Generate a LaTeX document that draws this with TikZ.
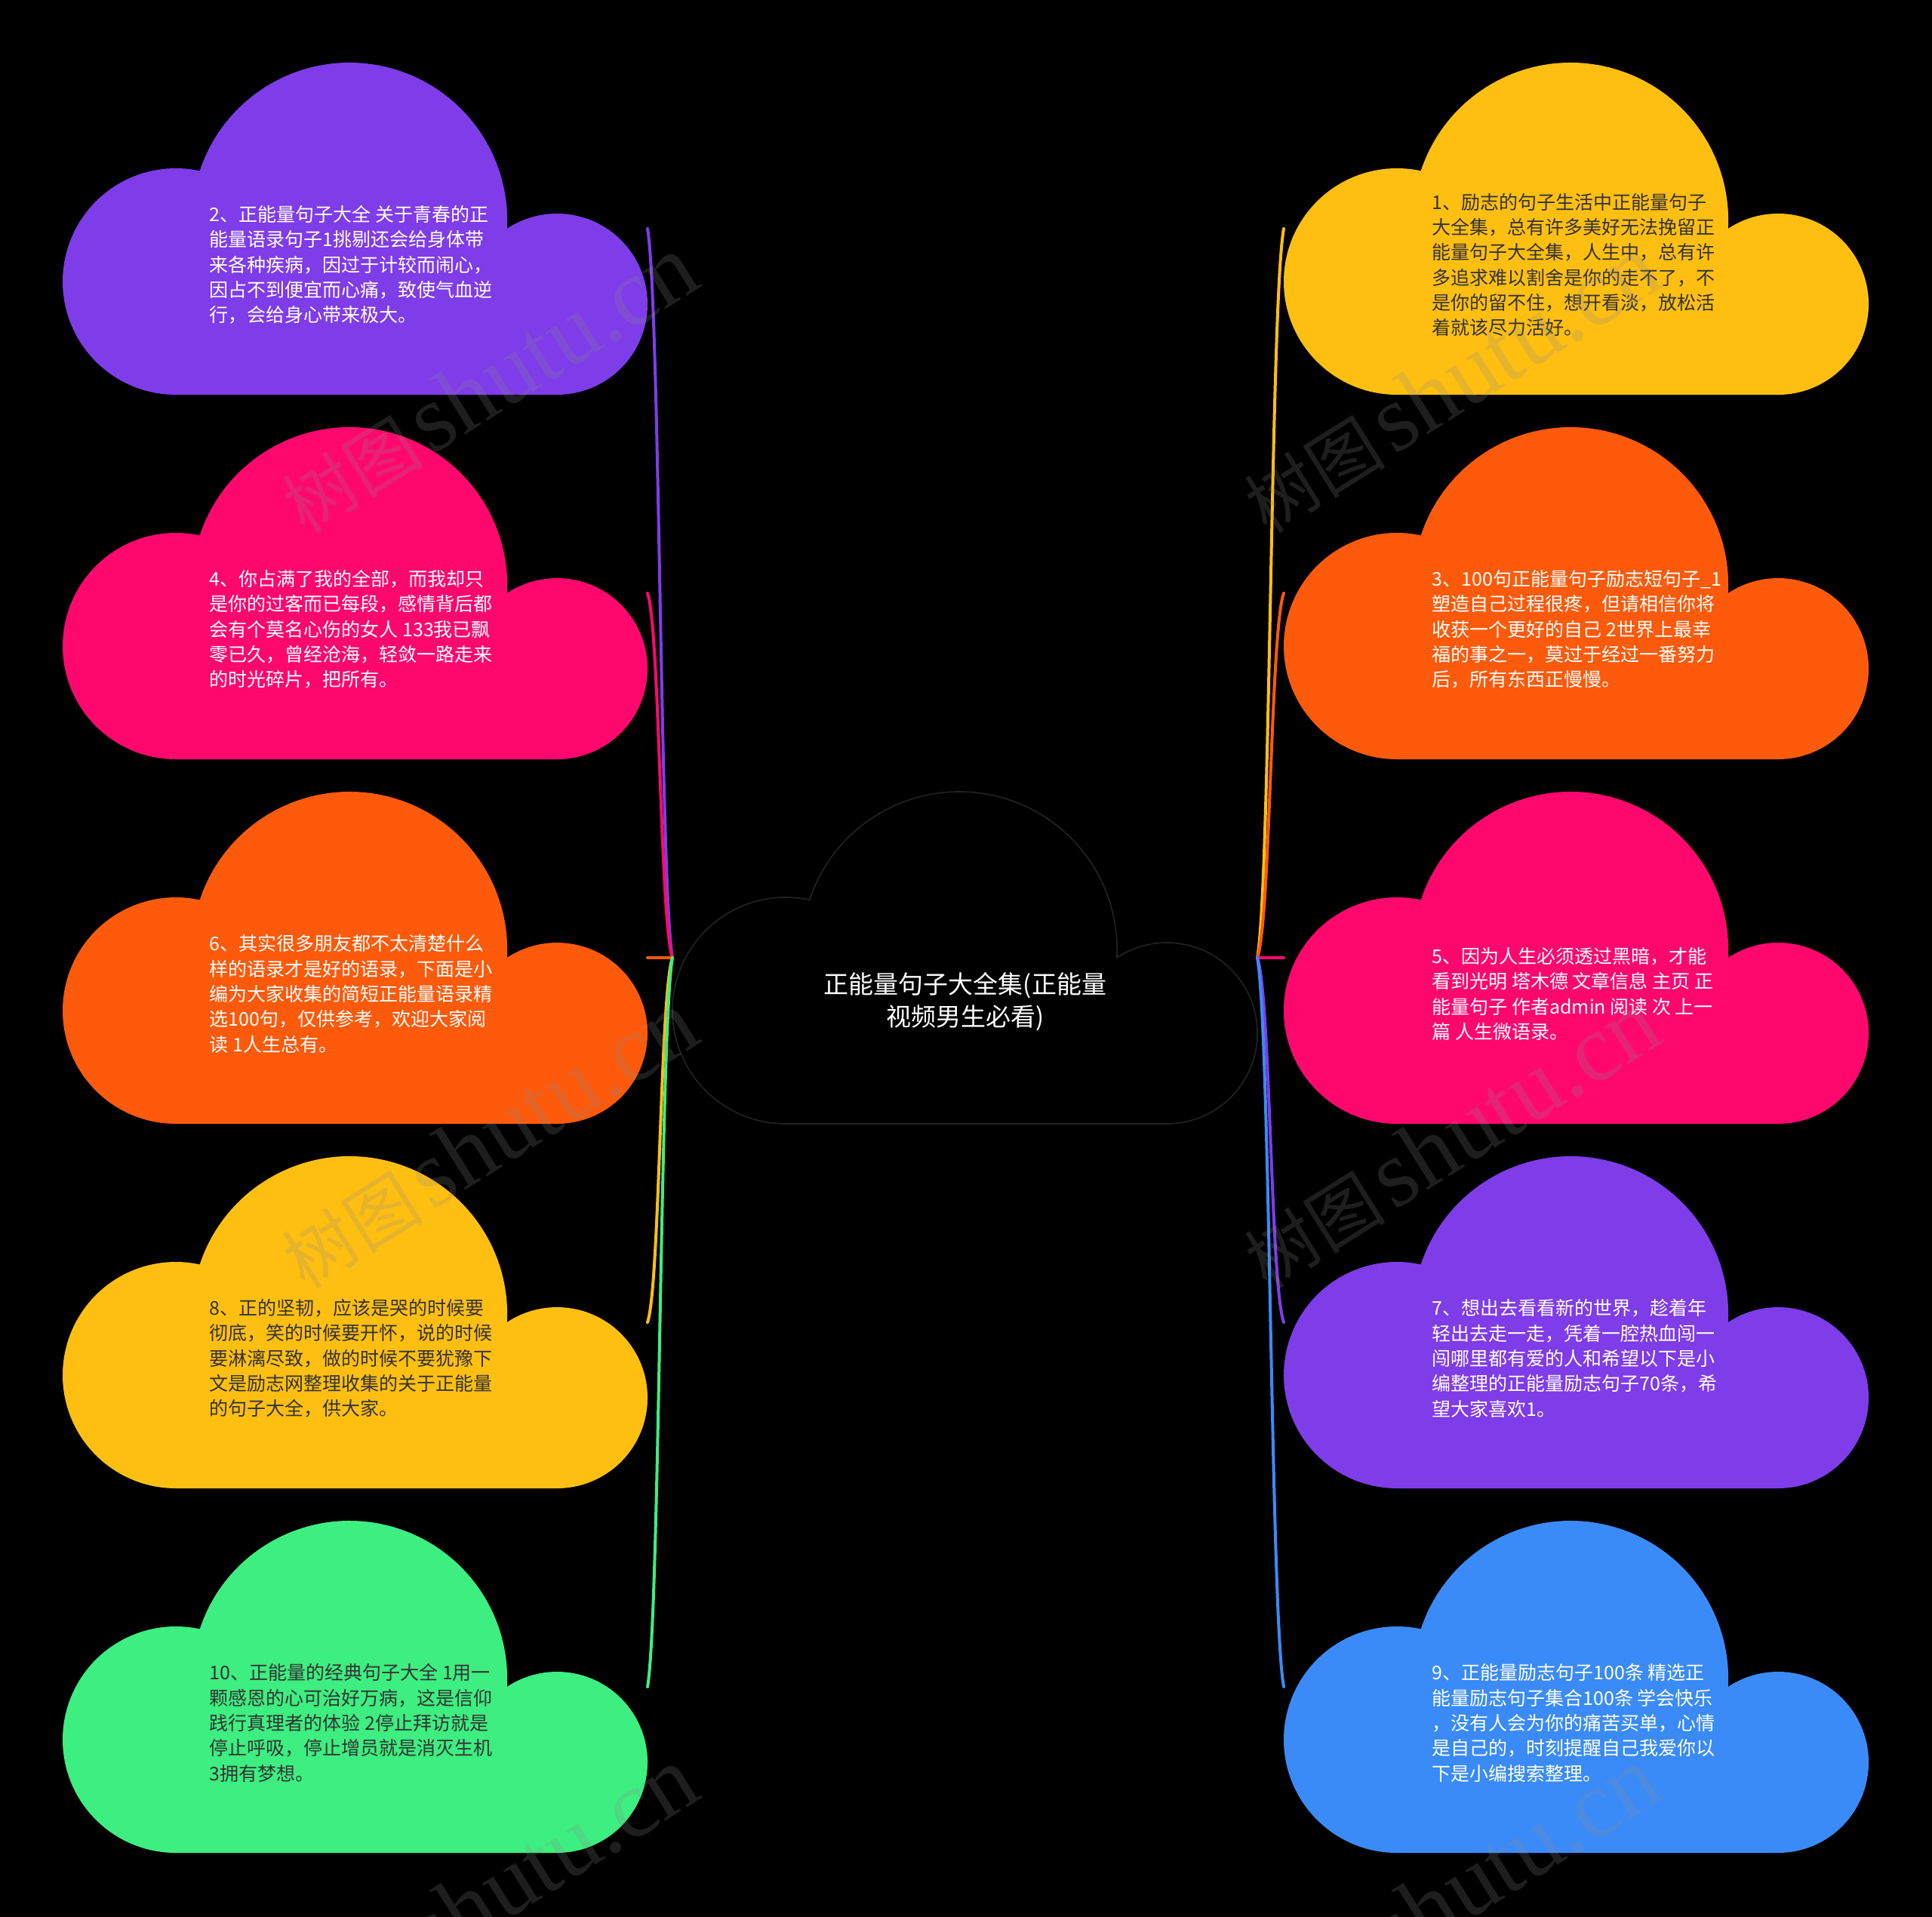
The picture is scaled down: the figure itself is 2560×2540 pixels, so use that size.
\documentclass[tikz,border=0pt]{standalone}
\usepackage{fontspec}
\newfontfamily\cjk{Noto Sans CJK SC}
\newfontfamily\wmlatin{Liberation Serif}
\usetikzlibrary{calc}
\definecolor{cpurple}{HTML}{7F3CE9}
\definecolor{cpink}{HTML}{FE086E}
\definecolor{corange}{HTML}{FD5A0B}
\definecolor{cyellow}{HTML}{FFBF11}
\definecolor{cgreen}{HTML}{3DEE80}
\definecolor{cblue}{HTML}{3A8BF7}
\definecolor{cdark}{HTML}{333333}
\definecolor{coutline}{HTML}{222222}
\newcommand{\cloudat}[3]{%
  \begin{scope}[shift={(#1,#2)}]
    \path[#3] (150,-440) arc[start angle=270,end angle=77.8,radius=150]
      arc[start angle=161.7,end angle=-3,radius=209]
      arc[start angle=123.5,end angle=-90,radius=120] -- cycle;
  \end{scope}}
\newcommand{\linkit}[3]{%
  \draw[conn,#3] let \p1=(#1),\p2=(#2) in (#1) .. controls ({0.5*\x1+0.5*\x2},{0.9*\y1+0.1*\y2}) and ({0.5*\x1+0.5*\x2},{0.1*\y1+0.9*\y2}) .. (#2);}
\begin{document}
\begin{tikzpicture}[x=0.3pt,y=0.3pt,
  conn/.style={line width=1.2pt,line cap=round},
  txt/.style={anchor=west,align=left,inner sep=0pt,font=\cjk\fontsize{7.5}{10}\selectfont},
  lighttxt/.style={txt,text=white},
  darktxt/.style={txt,text=cdark},
  wm/.style={rotate=32,inner sep=0pt,text=gray!90,opacity=0.22}]
\fill[black] (0,0) rectangle (2560,-2540);
\useasboundingbox (0,0) rectangle (2560,-2540);
% clouds
\cloudat{83}{-83}{fill=cpurple}
\cloudat{83}{-566}{fill=cpink}
\cloudat{83}{-1049}{fill=corange}
\cloudat{83}{-1532}{fill=cyellow}
\cloudat{83}{-2015}{fill=cgreen}
\cloudat{1701}{-83}{fill=cyellow}
\cloudat{1701}{-566}{fill=corange}
\cloudat{1701}{-1049}{fill=cpink}
\cloudat{1701}{-1532}{fill=cpurple}
\cloudat{1701}{-2015}{fill=cblue}
\cloudat{891}{-1049}{fill=black,draw=coutline,line width=0.5pt}
% connector end points
\coordinate (jl) at (891,-1269);
\coordinate (jr) at (1666,-1269);
\coordinate (e2) at (858,-303);
\coordinate (e4) at (858,-786);
\coordinate (e6) at (858,-1269);
\coordinate (e8) at (858,-1752);
\coordinate (e10) at (858,-2235);
\coordinate (e1) at (1701,-303);
\coordinate (e3) at (1701,-786);
\coordinate (e5) at (1701,-1269);
\coordinate (e7) at (1701,-1752);
\coordinate (e9) at (1701,-2235);
\linkit{e2}{jl}{cpurple}
\linkit{e4}{jl}{cpink}
\linkit{e6}{jl}{corange}
\linkit{e8}{jl}{cyellow}
\linkit{e10}{jl}{cgreen}
\linkit{e1}{jr}{cyellow}
\linkit{e3}{jr}{corange}
\linkit{e5}{jr}{cpink}
\linkit{e7}{jr}{cpurple}
\linkit{e9}{jr}{cblue}
% center
\node[align=center,inner sep=0pt,text=white,font=\cjk\fontsize{9.9}{12.9}\selectfont] (ctext) at (1279,-1327) {正能量句子大全集(正能量\\视频男生必看)};
% left texts
\node[lighttxt] (t2) at (277,-351) {2、正能量句子大全 关于青春的正\\能量语录句子1挑剔还会给身体带\\来各种疾病，因过于计较而闹心，\\因占不到便宜而心痛，致使气血逆\\行，会给身心带来极大。};
\node[lighttxt] (t4) at (277,-834) {4、你占满了我的全部，而我却只\\是你的过客而已每段，感情背后都\\会有个莫名心伤的女人 133我已飘\\零已久，曾经沧海，轻敛一路走来\\的时光碎片，把所有。};
\node[lighttxt] (t6) at (277,-1317) {6、其实很多朋友都不太清楚什么\\样的语录才是好的语录，下面是小\\编为大家收集的简短正能量语录精\\选100句，仅供参考，欢迎大家阅\\读 1人生总有。};
\node[darktxt] (t8) at (277,-1800) {8、正的坚韧，应该是哭的时候要\\彻底，笑的时候要开怀，说的时候\\要淋漓尽致，做的时候不要犹豫下\\文是励志网整理收集的关于正能量\\的句子大全，供大家。};
\node[darktxt] (t10) at (277,-2283) {10、正能量的经典句子大全 1用一\\颗感恩的心可治好万病，这是信仰\\践行真理者的体验 2停止拜访就是\\停止呼吸，停止增员就是消灭生机\\3拥有梦想。};
% right texts
\node[darktxt] (t1) at (1897,-351) {1、励志的句子生活中正能量句子\\大全集，总有许多美好无法挽留正\\能量句子大全集，人生中，总有许\\多追求难以割舍是你的走不了，不\\是你的留不住，想开看淡，放松活\\着就该尽力活好。};
\node[lighttxt] (t3) at (1897,-834) {3、100句正能量句子励志短句子\_1\\塑造自己过程很疼，但请相信你将\\收获一个更好的自己 2世界上最幸\\福的事之一，莫过于经过一番努力\\后，所有东西正慢慢。};
\node[lighttxt] (t5) at (1897,-1317) {5、因为人生必须透过黑暗，才能\\看到光明 塔木德 文章信息 主页 正\\能量句子 作者admin 阅读 次 上一\\篇 人生微语录。};
\node[lighttxt] (t7) at (1897,-1800) {7、想出去看看新的世界，趁着年\\轻出去走一走，凭着一腔热血闯一\\闯哪里都有爱的人和希望以下是小\\编整理的正能量励志句子70条，希\\望大家喜欢1。};
\node[lighttxt] (t9) at (1897,-2283) {9、正能量励志句子100条 精选正\\能量励志句子集合100条 学会快乐\\，没有人会为你的痛苦买单，心情\\是自己的，时刻提醒自己我爱你以\\下是小编搜索整理。};
% watermarks
\foreach \wx/\wy/\wn in {648/-509/1,1923/-509/2,648/-1510/3,1923/-1510/4,648/-2512/5,1923/-2512/6}{
  \node[wm] (wm\wn) at (\wx,\wy) {{\cjk\fontsize{28}{30}\selectfont 树图} {\wmlatin\fontsize{38}{40}\selectfont shutu.cn}};
}
\end{tikzpicture}
\end{document}
